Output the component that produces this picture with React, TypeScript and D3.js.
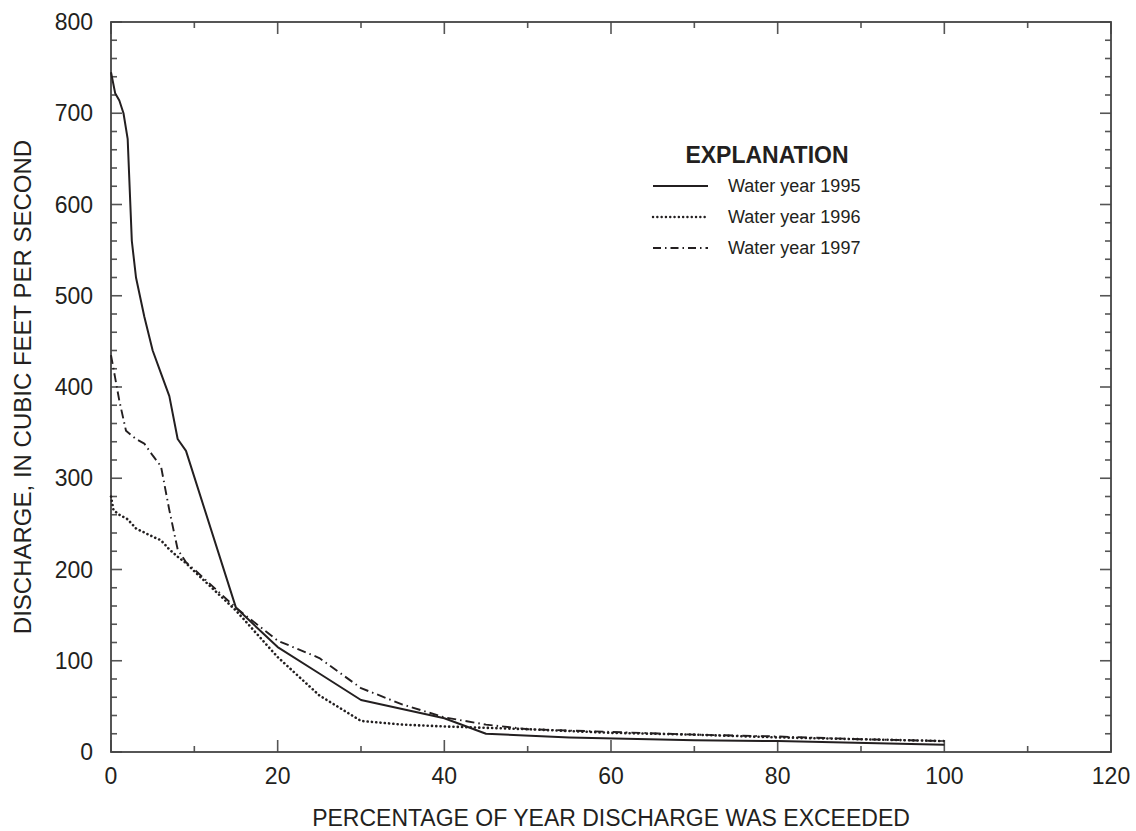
import React from "react";
import * as d3 from "d3";

// Flow-duration data: percentage of year exceeded vs. discharge (ft³/s)
const pct1995 = [0, 0.5, 1, 1.5, 2, 2.5, 3, 4, 5, 6, 7, 8, 9, 15, 20, 25, 30, 40, 45, 55, 70, 80, 100];
const q1995 = [745, 722, 714, 700, 672, 560, 520, 477, 440, 415, 390, 343, 330, 158, 115, 86, 57, 37, 20, 16, 13, 12, 8];

const pct1996 = [0, 0.3, 1, 2, 3, 5, 6, 7, 8, 9, 10, 15, 20, 25, 30, 35, 40, 50, 60, 70, 80, 90, 100];
const q1996 = [280, 265, 260, 255, 245, 236, 232, 222, 214, 207, 198, 155, 104, 62, 34, 30, 28, 25, 21, 19, 16, 14, 12];

const pct1997 = [0, 0.5, 1, 1.8, 3, 4, 5, 6, 7, 8, 9, 10, 15, 20, 25, 30, 35, 40, 45, 50, 60, 70, 80, 90, 100];
const q1997 = [435, 410, 385, 352, 343, 338, 325, 313, 265, 222, 208, 200, 158, 122, 103, 70, 52, 38, 30, 25, 22, 19, 17, 14, 12];

const seriesNames = ["Water year 1995", "Water year 1996", "Water year 1997"];
const xMajorTicks = [0, 20, 40, 60, 80, 100, 120];
const yMajorTicks = [0, 100, 200, 300, 400, 500, 600, 700, 800];

const W = 1136;
const H = 831;
const left = 111;
const right = 1111;
const top = 22;
const bottom = 752;

const FONT = "'Liberation Sans', Arial, Helvetica, sans-serif";
const INK = "#231f20";

const dashStyles = [
  { dash: undefined as string | undefined, cap: "butt", width: 2 },
  { dash: "0.1,4.2", cap: "round", width: 2.6 },
  { dash: "9,4,1.5,4", cap: "butt", width: 1.9 },
];

export default function App() {
  const x = d3.scaleLinear().domain([0, 120]).range([left, right]);
  const y = d3.scaleLinear().domain([0, 800]).range([bottom, top]);

  const line = d3
    .line<[number, number]>()
    .x((d) => x(d[0]))
    .y((d) => y(d[1]));

  const series: [number, number][][] = [
    pct1995.map((p, i) => [p, q1995[i]]),
    pct1996.map((p, i) => [p, q1996[i]]),
    pct1997.map((p, i) => [p, q1997[i]]),
  ];

  const xMinor = d3.range(0, 121, 10).filter((v) => v % 20 !== 0);
  const yMinor = d3.range(0, 801, 20).filter((v) => v % 100 !== 0);

  const legendX0 = 653;
  const legendX1 = 708;
  const legendRows = [186, 217, 248];

  return (
    <svg width={W} height={H} style={{ display: "block", position: "absolute", left: 0, top: 0, background: "#fff" }}>
      <rect x={0} y={0} width={W} height={H} fill="#fff" />

      {/* ticks, pointing inward on all four sides */}
      <g stroke="#555" strokeWidth={1.6}>
        {xMajorTicks.map((t) => (
          <g key={"xM" + t}>
            <line x1={x(t)} x2={x(t)} y1={bottom} y2={bottom - 12} />
            <line x1={x(t)} x2={x(t)} y1={top} y2={top + 12} />
          </g>
        ))}
        {xMinor.map((t) => (
          <g key={"xm" + t}>
            <line x1={x(t)} x2={x(t)} y1={bottom} y2={bottom - 6} />
            <line x1={x(t)} x2={x(t)} y1={top} y2={top + 6} />
          </g>
        ))}
        {yMajorTicks.map((t) => (
          <g key={"yM" + t}>
            <line x1={left} x2={left + 11} y1={y(t)} y2={y(t)} />
            <line x1={right} x2={right - 11} y1={y(t)} y2={y(t)} />
          </g>
        ))}
        {yMinor.map((t) => (
          <g key={"ym" + t}>
            <line x1={left} x2={left + 6} y1={y(t)} y2={y(t)} />
            <line x1={right} x2={right - 6} y1={y(t)} y2={y(t)} />
          </g>
        ))}
      </g>

      {/* plot frame */}
      <rect x={left} y={top} width={right - left} height={bottom - top} fill="none" stroke="#444" strokeWidth={1.8} />

      {/* tick labels */}
      <g fontFamily={FONT} fontSize={23} fill={INK}>
        {xMajorTicks.map((t) => (
          <text key={"xl" + t} x={x(t)} y={784} textAnchor="middle">
            {t}
          </text>
        ))}
        {yMajorTicks.map((t) => (
          <text key={"yl" + t} x={93} y={y(t)} dy="0.35em" textAnchor="end">
            {t}
          </text>
        ))}
      </g>

      {/* axis titles */}
      <text x={(left + right) / 2} y={826} textAnchor="middle" fontFamily={FONT} fontSize={23} fill={INK}>
        PERCENTAGE OF YEAR DISCHARGE WAS EXCEEDED
      </text>
      <text
        transform={`translate(31, ${(top + bottom) / 2}) rotate(-90)`}
        textAnchor="middle"
        fontFamily={FONT}
        fontSize={24}
        fill={INK}
      >
        DISCHARGE, IN CUBIC FEET PER SECOND
      </text>

      {/* curves */}
      <g fill="none" stroke={INK} strokeLinejoin="round">
        {series.map((s, i) => (
          <path
            key={"s" + i}
            d={line(s) || ""}
            strokeWidth={dashStyles[i].width}
            strokeDasharray={dashStyles[i].dash}
            strokeLinecap={dashStyles[i].cap as any}
          />
        ))}
      </g>

      {/* legend */}
      <text x={767} y={163} textAnchor="middle" fontFamily={FONT} fontSize={23} fontWeight="bold" fill={INK}>
        EXPLANATION
      </text>
      {seriesNames.map((name, i) => (
        <g key={"lg" + i}>
          <line
            x1={legendX0}
            x2={legendX1}
            y1={legendRows[i]}
            y2={legendRows[i]}
            stroke={INK}
            strokeWidth={i === 1 ? 2.4 : 2}
            strokeDasharray={i === 1 ? "0.1,4.2" : i === 2 ? "8,4,1.5,4" : undefined}
            strokeLinecap={i === 1 ? "round" : "butt"}
          />
          <text x={728} y={legendRows[i]} dy="0.35em" fontFamily={FONT} fontSize={18} fill={INK}>
            {name}
          </text>
        </g>
      ))}
    </svg>
  );
}
